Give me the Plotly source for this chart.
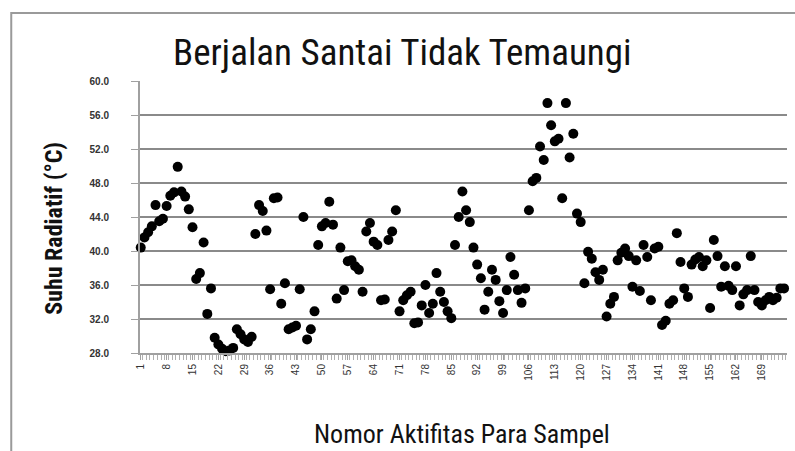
import plotly.graph_objects as go

# Sample numbers (Nomor Aktifitas) and radiative temperature values (°C)
suhu = [
    40.4, 41.6, 42.2, 42.9, 45.4, 43.5, 43.8, 45.3, 46.5, 46.9,
    49.9, 47.0, 46.4, 44.9, 42.8, 36.7, 37.4, 41.0, 32.6, 35.6,
    29.8, 29.0, 28.5, 28.2, 28.3, 28.6, 30.8, 30.2, 29.6, 29.3,
    29.9, 42.0, 45.4, 44.7, 42.4, 35.5, 46.2, 46.3, 33.8, 36.2,
    30.8, 31.0, 31.2, 35.5, 44.0, 29.6, 30.8, 32.9, 40.7, 42.9,
    43.3, 45.8, 43.1, 34.4, 40.4, 35.4, 38.8, 38.9, 38.2, 37.8,
    35.2, 42.3, 43.3, 41.1, 40.7, 34.2, 34.3, 41.3, 42.3, 44.8,
    32.9, 34.2, 34.8, 35.2, 31.5, 31.6, 33.6, 36.0, 32.7, 33.8,
    37.4, 35.2, 34.0, 32.9, 32.1, 40.7, 44.0, 47.0, 44.8, 43.4,
    40.4, 38.4, 36.8, 33.1, 35.2, 37.8, 36.6, 34.1, 32.7, 35.4,
    39.3, 37.2, 35.4, 33.9, 35.6, 44.8, 48.2, 48.6, 52.3, 50.7,
    57.4, 54.8, 52.9, 53.2, 46.2, 57.4, 51.0, 53.8, 44.4, 43.4,
    36.2, 39.9, 39.1, 37.5, 36.6, 37.8, 32.3, 33.8, 34.6, 38.9,
    39.8, 40.3, 39.4, 35.8, 38.9, 35.3, 40.7, 39.3, 34.2, 40.3,
    40.5, 31.3, 31.8, 33.8, 34.2, 42.1, 38.7, 35.6, 34.6, 38.4,
    39.0, 39.3, 38.2, 38.9, 33.3, 41.3, 39.4, 35.8, 38.2, 35.9,
    35.4, 38.2, 33.6, 34.9, 35.4, 39.4, 35.4, 34.0, 33.6, 34.2,
    34.6, 34.2, 34.5, 35.6, 35.6,
]
nomor = list(range(1, len(suhu) + 1))
x_tick_vals = list(range(1, 170, 7))
x_tick_text = [str(v) for v in x_tick_vals]
y_tick_vals = [28, 32, 36, 40, 44, 48, 52, 56, 60]
y_tick_text = ["%.1f" % v for v in y_tick_vals]

title_text = "Berjalan Santai Tidak Temaungi"
x_title = "Nomor Aktifitas Para Sampel"
y_title = "Suhu Radiatif (°C)"

narrow = "Liberation Sans Narrow, Arial Narrow, Roboto Condensed, Liberation Sans, sans-serif"
tickfam = "Liberation Sans, Arial, sans-serif"
pad = "\u2002" * 4  # gap between y tick labels and axis

fig = go.Figure()
fig.add_trace(go.Scatter(
    x=nomor, y=suhu, mode="markers",
    marker=dict(color="black", size=10, line=dict(width=0)),
    cliponaxis=False, showlegend=False,
))

fig.update_layout(
    template="none",
    width=795, height=451,
    paper_bgcolor="white", plot_bgcolor="white",
    margin=dict(l=140, r=8, t=81, b=98),
    title=dict(text=title_text, x=0.506, xanchor="center", y=0.885, yanchor="middle",
               font=dict(family=narrow, size=37, color="#111")),
    xaxis=dict(
        automargin=False,
        range=[0.8, 175.8], tickmode="array", tickvals=x_tick_vals, ticktext=x_tick_text,
        tickangle=-90, tickfont=dict(family=tickfam, size=10, color="#333"),
        showgrid=False, zeroline=False,
        showline=True, linecolor="#a0a0a0", linewidth=2,
        ticks="outside", ticklen=5, tickcolor="#a0a0a0",
        minor=dict(tickmode="linear", tick0=0.5, dtick=1, ticks="outside",
                   ticklen=5, tickcolor="#b0b0b0", showgrid=False),
    ),
    yaxis=dict(
        automargin=False,
        range=[28, 60], tickmode="array", tickvals=y_tick_vals,
        ticktext=[t + pad for t in y_tick_text],
        tickfont=dict(family=tickfam, size=10, color="#333", weight="bold"),
        showgrid=True, gridcolor="#8a8a8a", gridwidth=2,
        zeroline=False, showline=True, linecolor="#a0a0a0", linewidth=2,
        ticks="outside", ticklen=7, tickcolor="#a0a0a0",
    ),
    annotations=[
        dict(text=x_title, xref="paper", yref="paper", x=0.498, y=-0.296,
             xanchor="center", yanchor="middle", showarrow=False,
             font=dict(family=narrow, size=26, color="#111")),
        dict(text=y_title, xref="paper", yref="paper", x=-0.133, y=0.46,
             xanchor="center", yanchor="middle", textangle=-90, showarrow=False,
             font=dict(family=narrow, size=24, color="#111", weight="bold")),
    ],
    shapes=[dict(type="rect", xref="paper", yref="paper",
                 x0=-0.199, x1=1.05, y0=-0.5, y1=1.25,
                 line=dict(color="#9a9a9a", width=2), fillcolor="rgba(0,0,0,0)", layer="below")],
)

fig.write_html("out.html", config={"displayModeBar": False},
               post_script="document.body.style.margin='0px';")
